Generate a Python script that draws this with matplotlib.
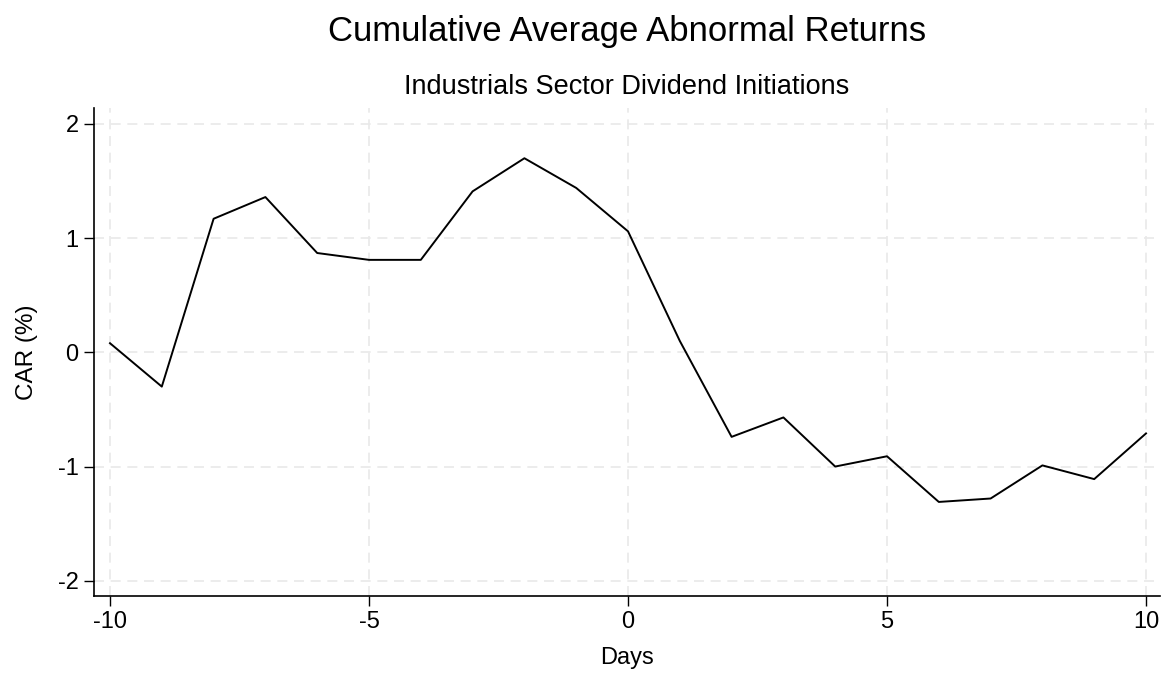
import numpy as np
import matplotlib
matplotlib.use('Agg')
import matplotlib.pyplot as plt

# event window (days) and cumulative average abnormal returns (%)
days = list(range(-10, 11))
car = [0.08, -0.30, 1.17, 1.36, 0.87, 0.81, 0.81, 1.41, 1.70, 1.44, 1.06,
       0.10, -0.74, -0.57, -1.00, -0.91, -1.31, -1.28, -0.99, -1.11, -0.71]

x_ticks = [-10, -5, 0, 5, 10]
y_ticks = [-2, -1, 0, 1, 2]

plt.rcParams['font.family'] = ['Liberation Sans', 'DejaVu Sans']

fig = plt.figure(figsize=(11.67, 6.75), dpi=100)
ax = fig.add_axes([0.0805, 0.117, 0.9135, 0.723])

ax.plot(days, car, color='black', linewidth=1.4, zorder=3)

ax.set_xlim(-10.31, 10.27)
ax.set_ylim(-2.134, 2.14)
ax.set_xticks(x_ticks)
ax.set_yticks(y_ticks)
ax.set_xticklabels([str(t) for t in x_ticks])
ax.set_yticklabels([str(t) for t in y_ticks])
ax.tick_params(direction='out', length=7, width=1.0, labelsize=17, pad=4)

ax.grid(True, color='#e9e9e9', linestyle=(0, (6, 4)), linewidth=1.2)
ax.set_axisbelow(True)

for side in ['top', 'right']:
    ax.spines[side].set_visible(False)
for side in ['left', 'bottom']:
    ax.spines[side].set_linewidth(1.2)

ax.set_xlabel('Days', fontsize=17, labelpad=10)
ax.set_ylabel('CAR (%)', fontsize=17.5, labelpad=14)

fig.text(0.537, 0.953, 'Cumulative Average Abnormal Returns', fontsize=25,
         ha='center', va='center')
fig.text(0.537, 0.871, 'Industrials Sector Dividend Initiations', fontsize=19.5,
         ha='center', va='center')

fig.savefig('out.png', dpi=100)
